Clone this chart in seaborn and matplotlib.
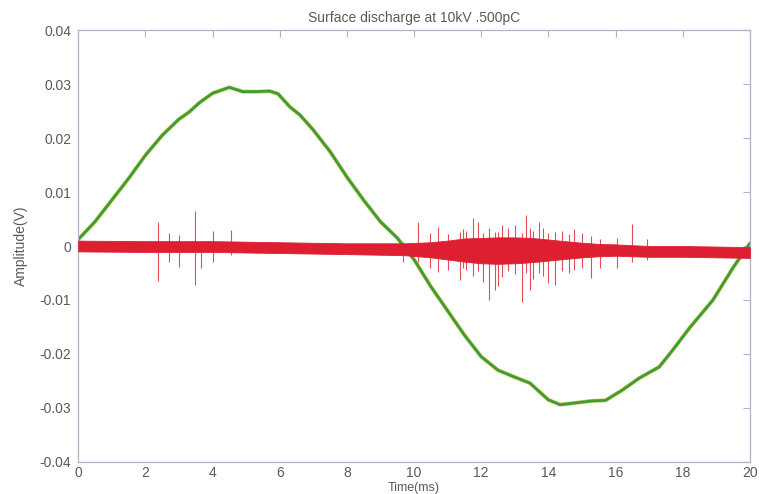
import numpy as np
import pandas as pd
import matplotlib
matplotlib.use('Agg')
import matplotlib.pyplot as plt
import seaborn as sns

# supply voltage trace (green)
sine_t = [0.0, 0.5, 1.0, 1.5, 2.0, 2.5, 3.0, 3.3, 3.6, 4.0, 4.5, 4.9, 5.3, 5.7, 5.95,
          6.3, 6.6, 7.0, 7.5, 8.0, 8.5, 9.0, 9.5, 10.0, 10.5, 11.0, 11.5, 12.0, 12.5,
          13.0, 13.45, 14.0, 14.35, 14.9, 15.3, 15.7, 16.2, 16.7, 17.3, 17.7, 18.2,
          18.9, 19.5, 20.0]
sine_v = [0.0012, 0.0045, 0.0085, 0.0125, 0.0168, 0.0205, 0.0235, 0.0248, 0.0265, 0.0283,
          0.0294, 0.0286, 0.0286, 0.0287, 0.0282, 0.0258, 0.0243, 0.0215, 0.0175, 0.0128,
          0.0085, 0.0045, 0.0015, -0.0025, -0.0075, -0.0120, -0.0165, -0.0205, -0.0230,
          -0.0243, -0.0254, -0.0285, -0.0294, -0.0290, -0.0287, -0.0286, -0.0267, -0.0245,
          -0.0224, -0.0193, -0.0152, -0.0100, -0.0040, 0.0005]

# PD signal background band (red)
band_t = [0, 2, 4, 6, 8, 9.7, 10.5, 11, 11.5, 12, 12.5, 13, 13.5, 14, 14.5, 15, 15.5,
          16, 17, 18, 20]
band_hi = [0.0010, 0.0009, 0.0009, 0.0007, 0.0005, 0.0005, 0.0007, 0.0010, 0.0014, 0.0015,
           0.0016, 0.0016, 0.0015, 0.0012, 0.0009, 0.0006, 0.0004, 0.0003, 0.0000, 0.0000,
           -0.0002]
band_lo = [-0.0010, -0.0011, -0.0011, -0.0013, -0.0015, -0.0017, -0.0021, -0.0025, -0.0029,
           -0.0032, -0.0033, -0.0032, -0.0030, -0.0027, -0.0024, -0.0021, -0.0019, -0.0018,
           -0.0020, -0.0020, -0.0022]

# discharge pulses
spike_t = [2.37, 2.69, 2.99, 3.48, 3.65, 4.00, 4.54, 9.67, 10.11, 10.48, 10.72, 11.00,
           11.37, 11.45, 11.55, 11.76, 11.90, 12.05, 12.23, 12.40, 12.50, 12.62, 12.80,
           13.00, 13.20, 13.32, 13.45, 13.55, 13.72, 13.85, 13.99, 14.20, 14.40, 14.60,
           14.76, 14.99, 15.26, 15.55, 16.03, 16.48, 16.93]
spike_hi = [0.0045, 0.0024, 0.0020, 0.0064, 0.0010, 0.0027, 0.0030, 0.0008, 0.0044, 0.0024,
            0.0035, 0.0022, 0.0026, 0.0032, 0.0028, 0.0052, 0.0045, 0.0024, 0.0033, 0.0026,
            0.0026, 0.0039, 0.0033, 0.0039, 0.0024, 0.0057, 0.0033, 0.0028, 0.0045, 0.0033,
            0.0024, 0.0026, 0.0028, 0.0022, 0.0031, 0.0024, 0.0019, 0.0013, 0.0014, 0.0041,
            0.0013]
spike_lo = [-0.0064, -0.0029, -0.0039, -0.0072, -0.0041, -0.0029, -0.0017, -0.0029, -0.0030,
            -0.0041, -0.0048, -0.0044, -0.0063, -0.0040, -0.0044, -0.0055, -0.0046, -0.0066,
            -0.0100, -0.0081, -0.0075, -0.0058, -0.0046, -0.0052, -0.0103, -0.0050, -0.0081,
            -0.0062, -0.0050, -0.0056, -0.0069, -0.0072, -0.0046, -0.0050, -0.0044, -0.0040,
            -0.0060, -0.0040, -0.0040, -0.0030, -0.0025]

green = '#3a9d3c'
red = '#de1f31'
axcol = '#a9b6cc'
txtcol = '#5a5a5a'

sns.set_style('white')
plt.rcParams['font.family'] = ['Liberation Sans', 'DejaVu Sans']

fig = plt.figure(figsize=(7.59, 4.94), dpi=100)
ax = fig.add_axes([0.103, 0.065, 0.885, 0.874])

sine_df = pd.DataFrame({'t': sine_t, 'v': sine_v})
sns.lineplot(data=sine_df, x='t', y='v', color='#c9c23a', linewidth=2.8, ax=ax)
sns.lineplot(data=sine_df, x='t', y='v', color=green, linewidth=1.9, ax=ax)

ax.fill_between(band_t, band_lo, band_hi, color=red, linewidth=0.6, edgecolor=red, zorder=3)
ax.vlines(spike_t, spike_lo, spike_hi, color=red, linewidth=0.8, alpha=0.8, zorder=3)

ax.set_xlim(0, 20)
ax.set_ylim(-0.04, 0.04)
ax.set_xticks(np.arange(0, 21, 2))
ax.set_yticks([-0.04, -0.03, -0.02, -0.01, 0, 0.01, 0.02, 0.03, 0.04])
ax.set_yticklabels(['-0.04', '-0.03', '-0.02', '-0.01', '0', '0.01', '0.02', '0.03', '0.04'])
ax.tick_params(direction='in', length=5, width=0.8, colors=axcol, labelcolor=txtcol,
               labelsize=10, top=True, right=True, pad=5)
ax.tick_params(axis='x', pad=3)
for s in ax.spines.values():
    s.set_color(axcol)
    s.set_linewidth(0.9)

ax.set_title('Surface discharge at 10kV .500pC', fontsize=10, color=txtcol, pad=6)
ax.set_xlabel('Time(ms)', fontsize=9, color=txtcol)
ax.xaxis.set_label_coords(0.5, -0.046)
ax.set_ylabel('Amplitude(V)', fontsize=10, color=txtcol, labelpad=8)

fig.savefig('out.png', dpi=100, facecolor='white')
